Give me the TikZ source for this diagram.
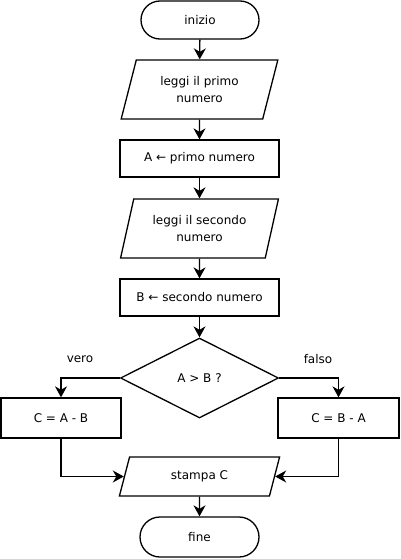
\documentclass[tikz,border=0pt]{standalone}
\usepackage{fontspec}
\setmainfont{DejaVu Sans}
\usetikzlibrary{shapes.geometric,shapes.misc,arrows.meta}
\newcommand{\pixel}{1pt}

\begin{document}
\begin{tikzpicture}[x=\pixel,y=-\pixel,line width=1.3pt,
	>={Stealth[length=11pt,width=12pt,inset=3.5pt]},
	every node/.style={font=\fontsize{12}{16.5}\selectfont,align=center,inner sep=0pt},
	terminal/.style={draw,rounded rectangle,minimum width=118pt,minimum height=38pt},
	io/.style={draw,trapezium,trapezium left angle=70,trapezium right angle=110,trapezium stretches=true,minimum width=158pt,minimum height=59pt},
	task/.style={draw,rectangle,minimum width=159pt,minimum height=37pt},
	test/.style={draw,diamond,minimum width=158pt,minimum height=80pt}]
	\useasboundingbox (0,0) rectangle (400,559);

	\node[terminal] (start) at (200,20) {inizio};
	\node[io] (in1) at (199.5,89.5) {leggi il primo\\numero};
	\node[task] (setA) at (199.5,158.5) {A ← primo numero};
	\node[io] (in2) at (199.5,228.5) {leggi il secondo\\numero};
	\node[task] (setB) at (199.5,297.5) {B ← secondo numero};
	\node[test] (cmp) at (199.5,378) {A > B ?};
	\node[task,minimum width=120pt,minimum height=40pt] (diffA) at (61,418) {C = A - B};
	\node[task,minimum width=121pt,minimum height=40pt] (diffB) at (338.5,418) {C = B - A};
	\node[io,minimum width=161pt,minimum height=39pt] (out) at (199.5,476.5) {stampa C};
	\node[terminal,minimum width=119pt,minimum height=40pt] (stop) at (199.5,537) {fine};
	\node (vero) at (80,359) {vero};
	\node (falso) at (318,359) {falso};

	\draw[->] (start) -- (in1);
	\draw[->] (in1) -- (setA);
	\draw[->] (setA) -- (in2);
	\draw[->] (in2) -- (setB);
	\draw[->] (setB) -- (cmp);
	\draw[->] (cmp.west) -| (diffA.north);
	\draw[->] (cmp.east) -| (diffB.north);
	\draw[->] (diffA.south) |- (out.west);
	\draw[->] (diffB.south) |- (out.east);
	\draw[->] (out) -- (stop);
\end{tikzpicture}
\end{document}
